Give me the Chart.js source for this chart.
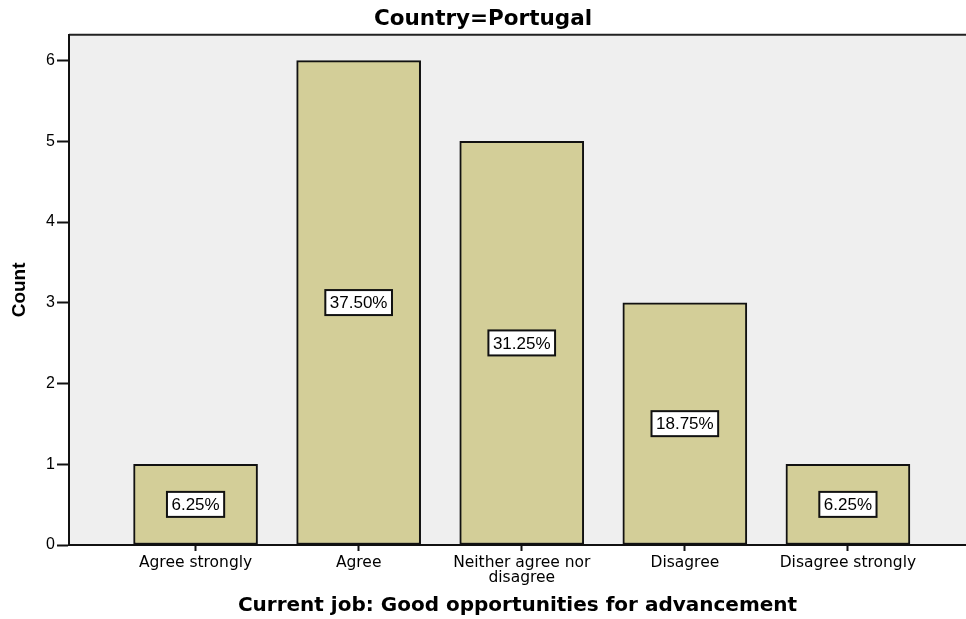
<!DOCTYPE html>
<html lang="en">
<head>
    <meta charset="UTF-8">
    <title>Country=Portugal</title>
    <style>
        body {
            margin: 0;
            background: #ffffff;
        }
        canvas {
            display: block;
        }
    </style>
</head>
<body>
    <canvas id="barChart" width="966" height="619"></canvas>
    <script src="https://cdn.jsdelivr.net/npm/chart.js"></script>
    <script>
        // Data
        const categories = [
            'Agree strongly',
            'Agree',
            ['Neither agree nor', 'disagree'],
            'Disagree',
            'Disagree strongly'
        ];
        const counts = [1, 6, 5, 3, 1];
        const percentLabels = ['6.25%', '37.50%', '31.25%', '18.75%', '6.25%'];
        const yTicks = [0, 1, 2, 3, 4, 5, 6];

        const barFill = '#d3ce98';
        const plotBg = '#efefef';

        // plot background and top frame line
        const frame = {
            id: 'frame',
            beforeDraw(chart) {
                const { ctx, chartArea } = chart;
                ctx.save();
                ctx.fillStyle = plotBg;
                ctx.fillRect(chartArea.left, chartArea.top, chartArea.right - chartArea.left, chartArea.bottom - chartArea.top);
                ctx.strokeStyle = '#222';
                ctx.lineWidth = 2;
                ctx.beginPath();
                ctx.moveTo(chartArea.left, chartArea.top);
                ctx.lineTo(chartArea.right, chartArea.top);
                ctx.stroke();
                ctx.restore();
            }
        };

        // percentage boxes in the middle of each bar
        const pctBoxes = {
            id: 'pctBoxes',
            afterDatasetsDraw(chart) {
                const { ctx } = chart;
                const meta = chart.getDatasetMeta(0);
                ctx.save();
                ctx.font = '17px "Liberation Sans", Arial, sans-serif';
                ctx.textAlign = 'center';
                ctx.textBaseline = 'middle';
                meta.data.forEach((bar, i) => {
                    const txt = percentLabels[i];
                    const cy = (bar.y + bar.base) / 2;
                    const w = ctx.measureText(txt).width + 9;
                    const h = 25;
                    ctx.fillStyle = '#fff';
                    ctx.fillRect(bar.x - w / 2, cy - h / 2, w, h);
                    ctx.strokeStyle = '#111';
                    ctx.lineWidth = 2;
                    ctx.strokeRect(bar.x - w / 2, cy - h / 2, w, h);
                    ctx.fillStyle = '#000';
                    ctx.fillText(txt, bar.x, cy + 1);
                });
                ctx.restore();
            }
        };

        const ctx = document.getElementById('barChart').getContext('2d');
        new Chart(ctx, {
            type: 'bar',
            data: {
                datasets: [{
                    data: counts.map((c, i) => ({ x: i, y: c })),
                    backgroundColor: barFill,
                    borderColor: '#111',
                    borderWidth: 2,
                    borderSkipped: false,
                    barThickness: 124
                }]
            },
            options: {
                responsive: false,
                animation: false,
                layout: { padding: { left: 0, right: 0, top: 0, bottom: 0 } },
                plugins: {
                    legend: { display: false },
                    tooltip: { enabled: false },
                    title: {
                        display: true,
                        text: 'Country=Portugal',
                        color: '#000',
                        font: { family: '"DejaVu Sans", sans-serif', size: 21.5, weight: 'bold' },
                        padding: { top: 7, bottom: 2 }
                    }
                },
                scales: {
                    x: {
                        type: 'linear',
                        offset: false,
                        min: -0.776,
                        max: 4.724,
                        afterBuildTicks(scale) {
                            scale.ticks = categories.map((c, i) => ({ value: i }));
                        },
                        afterFit(scale) {
                            scale.height = 74;
                        },
                        ticks: {
                            autoSkip: false,
                            maxRotation: 0,
                            padding: 4,
                            color: '#000',
                            font: { family: '"DejaVu Sans", sans-serif', size: 15.5, lineHeight: 1.0 },
                            callback: (v) => categories[v]
                        },
                        grid: {
                            offset: false,
                            drawOnChartArea: false,
                            tickLength: 6,
                            tickWidth: 2,
                            tickColor: '#111'
                        },
                        border: { color: '#111', width: 2 },
                        title: {
                            display: true,
                            text: 'Current job: Good opportunities for advancement',
                            color: '#000',
                            font: { family: '"DejaVu Sans", sans-serif', size: 20, weight: 'bold' },
                            padding: { top: 0, bottom: 1 }
                        }
                    },
                    y: {
                        min: 0,
                        max: 6.32,
                        afterBuildTicks(scale) {
                            scale.ticks = yTicks.map(v => ({ value: v }));
                        },
                        afterFit(scale) {
                            scale.width = 69;
                        },
                        ticks: {
                            padding: 2,
                            color: '#000',
                            font: { family: '"Liberation Sans", Arial, sans-serif', size: 16 }
                        },
                        grid: {
                            drawOnChartArea: false,
                            tickLength: 12,
                            tickWidth: 2,
                            tickColor: '#111'
                        },
                        border: { color: '#111', width: 2 },
                        title: {
                            display: true,
                            text: 'Count',
                            color: '#000',
                            font: { family: '"Liberation Sans", Arial, sans-serif', size: 19, weight: 'bold' },
                            padding: { top: 8, bottom: 0 }
                        }
                    }
                }
            },
            plugins: [frame, pctBoxes]
        });
    </script>
</body>
</html>
